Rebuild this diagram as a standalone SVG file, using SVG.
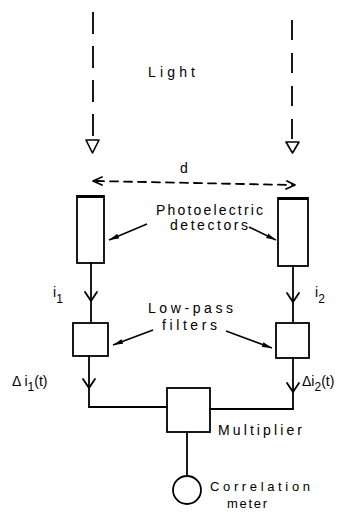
<svg xmlns="http://www.w3.org/2000/svg" width="349" height="514" viewBox="0 0 349 514">
<style>
.ln{stroke:#000;stroke-width:1.8;fill:none;stroke-linecap:round;stroke-linejoin:round}
.dash{stroke:#000;stroke-width:1.8;fill:none;stroke-dasharray:22 12}
.box{stroke:#000;stroke-width:1.8;fill:#fff}
.tri{stroke:#000;stroke-width:1.6;fill:#fff;stroke-linejoin:round}
.ptr{stroke:#000;stroke-width:1.5;fill:none}
text{font-family:"Liberation Sans",Arial,sans-serif;font-size:14px;fill:#000}
.sub{font-size:12px}
</style>
<defs>
<marker id="ah" viewBox="0 0 10 6" refX="10" refY="3" markerWidth="10" markerHeight="6" markerUnits="userSpaceOnUse" orient="auto">
<path d="M0,0.5 L10,3 L0,5.5 Z" fill="#000"/>
</marker>
<path id="chev" d="M-6,-9 L0,0 L6,-9" class="ln"/>
</defs>

<g id="light-beams">
<line class="dash" x1="93" y1="12" x2="93" y2="140"/>
<polygon class="tri" points="86,140 99,140 92.5,153"/>
<line class="dash" x1="292" y1="20" x2="292" y2="142" style="stroke-dasharray:20 13"/>
<polygon class="tri" points="286,142 299,142 292.5,153"/>
<text x="148" y="77" textLength="47" lengthAdjust="spacing">Light</text>
</g>

<g id="separation">
<line x1="96" y1="181" x2="292" y2="185" class="ln" style="stroke-dasharray:8 6"/>
<path class="ln" d="M102,177 L93,181 L102,185"/>
<path class="ln" d="M287,181 L295,185 L286,189"/>
<text x="180" y="173">d</text>
</g>

<g id="detector1">
<rect class="box" x="77" y="196" width="27" height="67"/>
<line x1="77" y1="196.5" x2="104" y2="196.5" stroke="#000" stroke-width="3"/>
</g>
<g id="detector2">
<rect class="box" x="278" y="198" width="30" height="68"/>
<line x1="278" y1="198.5" x2="308" y2="198.5" stroke="#000" stroke-width="3"/>
</g>

<g id="filter1"><rect class="box" x="73" y="323" width="35" height="33"/></g>
<g id="filter2"><rect class="box" x="276" y="323" width="33" height="35"/></g>
<g id="multiplier"><rect class="box" x="167" y="388" width="43" height="44"/></g>
<g id="meter"><circle class="box" cx="187" cy="490" r="14"/></g>

<g id="connectors">
<line class="ln" x1="91" y1="263" x2="91" y2="323"/>
<use href="#chev" x="91" y="301"/>
<line class="ln" x1="89" y1="356" x2="89" y2="407"/>
<use href="#chev" x="89" y="388"/>
<line class="ln" x1="89" y1="407" x2="167" y2="407"/>
<line class="ln" x1="293" y1="266" x2="293" y2="323"/>
<use href="#chev" x="293" y="302"/>
<line class="ln" x1="293" y1="358" x2="293" y2="409"/>
<use href="#chev" x="293" y="392"/>
<line class="ln" x1="210" y1="409" x2="293" y2="409"/>
<line class="ln" x1="187" y1="432" x2="187" y2="476"/>
</g>

<g id="labels">
<text x="156" y="215" textLength="107" lengthAdjust="spacing">Photoelectric</text>
<text x="170" y="230" textLength="78" lengthAdjust="spacing">detectors</text>
<line class="ptr" x1="147" y1="224" x2="109" y2="240" marker-end="url(#ah)"/>
<line class="ptr" x1="249" y1="227" x2="276" y2="240" marker-end="url(#ah)"/>
<text x="148" y="313" textLength="85" lengthAdjust="spacing">Low-pass</text>
<text x="162" y="330" textLength="55" lengthAdjust="spacing">filters</text>
<line class="ptr" x1="153" y1="330" x2="113" y2="345" marker-end="url(#ah)"/>
<line class="ptr" x1="226" y1="331" x2="272" y2="348" marker-end="url(#ah)"/>
<text x="53" y="297">i<tspan class="sub" dy="6">1</tspan></text>
<text x="315" y="297">i<tspan class="sub" dy="6">2</tspan></text>
<text x="12" y="386">Δ i<tspan class="sub" dy="5">1</tspan><tspan dy="-5">(t)</tspan></text>
<text x="302" y="386">Δi<tspan class="sub" dy="5">2</tspan><tspan dy="-5">(t)</tspan></text>
<text x="218" y="435" textLength="84" lengthAdjust="spacing">Multiplier</text>
<text x="210" y="491" textLength="100" lengthAdjust="spacing" style="font-size:13px">Correlation</text>
<text x="227" y="508" textLength="40" lengthAdjust="spacing" style="font-size:13px">meter</text>
</g>
</svg>
